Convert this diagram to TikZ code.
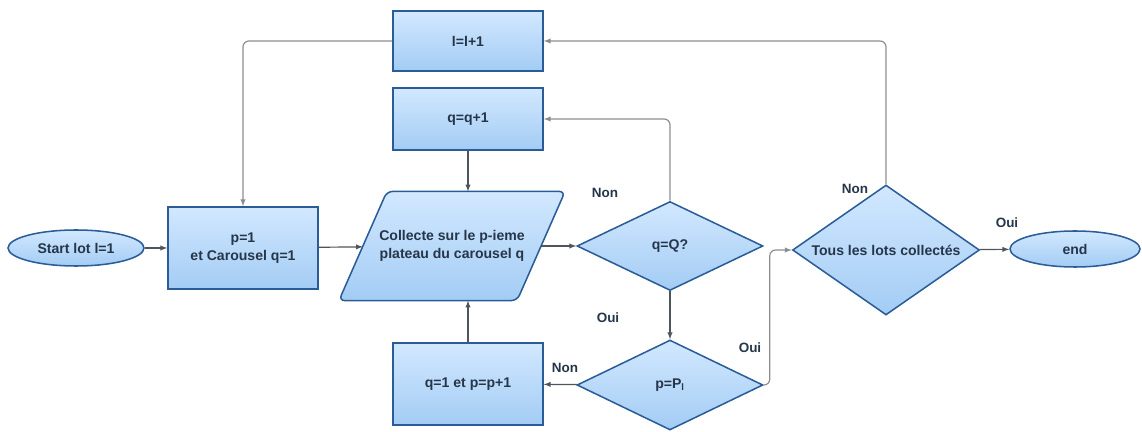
\documentclass[tikz,border=0pt]{standalone}
\usepackage{fontspec}
\setmainfont{Liberation Sans}
\usetikzlibrary{shapes.geometric,arrows,backgrounds}
\definecolor{boxtop}{HTML}{D2E8FF}
\definecolor{boxbot}{HTML}{A3CCF4}
\definecolor{boxline}{HTML}{2A5C98}
\definecolor{txt}{HTML}{26364A}
\definecolor{wirecol}{HTML}{4F555C}
\definecolor{loopcol}{HTML}{8A8E93}
\begin{document}
\begin{tikzpicture}[x=0.03cm,y=-0.03cm,>=latex,line width=1pt]
  \tikzstyle{base}=[draw=boxline,line width=1.3pt,top color=boxtop,bottom color=boxbot,text=txt,font=\fontsize{12}{15}\bfseries\selectfont,align=center,inner sep=1pt]
  \tikzstyle{block}=[base,rectangle,minimum width=4.5cm]
  \tikzstyle{term}=[base,ellipse,minimum width=4.08cm,minimum height=1.08cm]
  \tikzstyle{test}=[base,diamond,minimum width=5.58cm,minimum height=2.67cm,shape aspect=2]
  \tikzstyle{iotext}=[rectangle,text=txt,font=\fontsize{12}{15}\bfseries\selectfont,align=center,inner sep=0pt,minimum width=5.31cm,minimum height=3.24cm]
  \tikzstyle{io}=[draw=boxline,line width=1.3pt,top color=boxtop,bottom color=boxbot,rounded corners=5pt]
  \tikzstyle{wire}=[draw=wirecol,line width=1pt,->]
  \tikzstyle{loop}=[draw=loopcol,line width=1pt,->,rounded corners=5pt]
  \tikzstyle{tag}=[text=txt,font=\fontsize{11.5}{13}\bfseries\selectfont]
  \def\sk{0.72cm}	% half slant of the parallelogram
  \def\jog{6}	% side step of the Oui wire
  \useasboundingbox (0,0) rectangle (1142,432);
  \node[term] (start) at (76,248) {Start lot l=1};
  \node[block,minimum height=2.46cm] (init) at (243,248) {p=1\\et Carousel q=1};
  \node[iotext] (collect) at (452,246) {Collecte sur le p-ieme\\plateau du carousel q};
  \begin{pgfonlayer}{background}
    \path[io] ([xshift=-\sk]collect.south west) -- ([xshift=\sk]collect.north west)
      -- ([xshift=\sk]collect.north east) -- ([xshift=-\sk]collect.south east) -- cycle;
  \end{pgfonlayer}
  \node[block,minimum height=1.8cm] (incl) at (468,41) {l=l+1};
  \node[block,minimum height=1.86cm] (incq) at (468,119) {q=q+1};
  \node[block,minimum height=2.46cm] (incp) at (468,384) {q=1 et p=p+1};
  \node[test] (lastq) at (670,246) {q=Q?};
  \node[test,minimum height=2.7cm] (lastp) at (670,385) {p=P\textsubscript{l}};
  \node[test,minimum width=5.61cm,minimum height=3.9cm,shape aspect=1.44] (done) at (886,250) {Tous les lots collectés};
  \node[term,minimum width=3.9cm] (end) at (1075,249) {end};
  \draw[wire] (start) -- (init);
  \draw[wire] (init) -- (collect);
  \draw[wire] (collect) -- (lastq);
  \draw[wire] (lastq) -- (lastp);
  \draw[wire] (lastp) -- (incp);
  \draw[wire] (incp.north) -- (incp.north |- collect.south);
  \draw[wire] (incq.south) -- (incq.south |- collect.north);
  \draw[wire] (done) -- (end);
  \draw[loop] (lastq.north) |- (incq.east);
  \draw[loop] (done.north) |- (incl.east);
  \draw[loop] (incl.west) -| (init.north);
  \draw[loop] (lastp.east) -- +(\jog,0) |- (done.west);
  \node[tag] (nonq) at (605,193) {Non};
  \node[tag] (ouiq) at (608,318) {Oui};
  \node[tag] (nonp) at (565,368) {Non};
  \node[tag] (ouip) at (750,348) {Oui};
  \node[tag] (nond) at (855,189) {Non};
  \node[tag] (ouid) at (1007,223) {Oui};
\end{tikzpicture}
\end{document}
